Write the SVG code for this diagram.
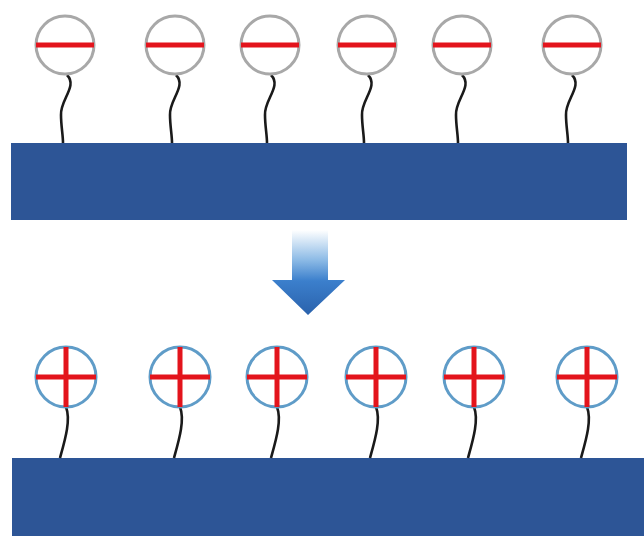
<svg xmlns="http://www.w3.org/2000/svg" width="644" height="536" viewBox="0 0 644 536">
<defs>
<linearGradient id="ag" x1="0" y1="0" x2="0" y2="1">
<stop offset="0" stop-color="#ffffff"/>
<stop offset="0.35" stop-color="#8dbbe6"/>
<stop offset="0.6" stop-color="#3b7fcc"/>
<stop offset="1" stop-color="#2a62ac"/>
</linearGradient>
<style>
.bar{fill:#2d5596}
.neg{fill:#fff;stroke:#a8a8a8;stroke-width:3}
.pos{fill:#fff;stroke:#5f9cc8;stroke-width:3}
.red{stroke:#e3141c;stroke-width:5;fill:none}
.tail{stroke:#1a1a1a;stroke-width:2.6;fill:none}
</style>
</defs>
<rect width="644" height="536" fill="#fff"/>
<g id="top-bar"><rect class="bar" x="11" y="143" width="616" height="77"/></g>
<g id="bottom-bar"><rect class="bar" x="12" y="458" width="632" height="78"/></g>
<g id="connectors">
<path class="tail" d="M67 75 C78 86,60 100,61 115 C61 126,63 135,63 143"/>
<path class="tail" d="M176 75 C187 86,169 100,170 115 C170 126,172 135,172 143"/>
<path class="tail" d="M271 75 C282 86,264 100,265 115 C265 126,267 135,267 143"/>
<path class="tail" d="M368 75 C379 86,361 100,362 115 C362 126,364 135,364 143"/>
<path class="tail" d="M462 75 C473 86,455 100,456 115 C456 126,458 135,458 143"/>
<path class="tail" d="M572 75 C583 86,565 100,566 115 C566 126,568 135,568 143"/>
<path class="tail" d="M66 407 C71 420,65 440,60 458"/>
<path class="tail" d="M180 407 C185 420,179 440,174 458"/>
<path class="tail" d="M277 407 C282 420,276 440,271 458"/>
<path class="tail" d="M376 407 C381 420,375 440,370 458"/>
<path class="tail" d="M474 407 C479 420,473 440,468 458"/>
<path class="tail" d="M587 407 C592 420,586 440,581 458"/>
</g>
<g id="arrow"><path d="M292 230 H328 V280 H345 L308 315 L272 280 H292 Z" fill="url(#ag)"/></g>
<g id="neg1"><circle class="neg" cx="65" cy="45" r="29"/><line class="red" x1="36" y1="45" x2="94" y2="45"/></g>
<g id="neg2"><circle class="neg" cx="175" cy="45" r="29"/><line class="red" x1="146" y1="45" x2="204" y2="45"/></g>
<g id="neg3"><circle class="neg" cx="270" cy="45" r="29"/><line class="red" x1="241" y1="45" x2="299" y2="45"/></g>
<g id="neg4"><circle class="neg" cx="367" cy="45" r="29"/><line class="red" x1="338" y1="45" x2="396" y2="45"/></g>
<g id="neg5"><circle class="neg" cx="462" cy="45" r="29"/><line class="red" x1="433" y1="45" x2="491" y2="45"/></g>
<g id="neg6"><circle class="neg" cx="572" cy="45" r="29"/><line class="red" x1="543" y1="45" x2="601" y2="45"/></g>
<g id="pos1"><circle class="pos" cx="66" cy="377" r="30"/><path class="red" d="M36 377 H96 M66 347 V407"/></g>
<g id="pos2"><circle class="pos" cx="180" cy="377" r="30"/><path class="red" d="M150 377 H210 M180 347 V407"/></g>
<g id="pos3"><circle class="pos" cx="277" cy="377" r="30"/><path class="red" d="M247 377 H307 M277 347 V407"/></g>
<g id="pos4"><circle class="pos" cx="376" cy="377" r="30"/><path class="red" d="M346 377 H406 M376 347 V407"/></g>
<g id="pos5"><circle class="pos" cx="474" cy="377" r="30"/><path class="red" d="M444 377 H504 M474 347 V407"/></g>
<g id="pos6"><circle class="pos" cx="587" cy="377" r="30"/><path class="red" d="M557 377 H617 M587 347 V407"/></g>
</svg>
